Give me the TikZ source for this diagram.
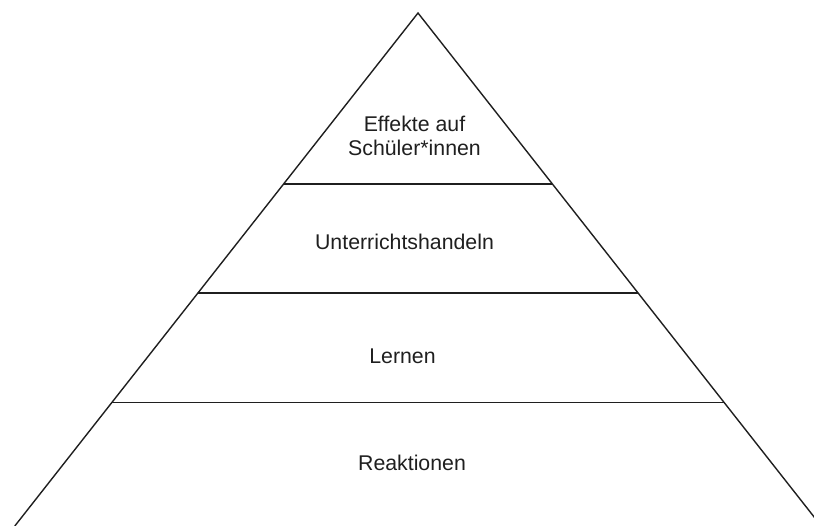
\documentclass[tikz,border=0pt]{standalone}
\usepackage{fontspec}
\setmainfont{Liberation Sans}
\usetikzlibrary{calc}

\begin{document}
\begin{tikzpicture}[
    x=1pt, y=-1pt,
    tier/.style={
        align=center,
        anchor=base,
        inner sep=0pt,
        text=black!88,
        font=\fontsize{21.3}{23.5}\selectfont
    },
    edge/.style={
        line width=1.4pt,
        draw=black!88,
        line join=miter
    }
]
\useasboundingbox (0,0) rectangle (814,526);
\clip (0,0) rectangle (814,526);

% Corners
\coordinate (apex) at (418,13);
\coordinate (bl) at (14.8,526);
\coordinate (br) at (821.2,526);

% Level ends on both sides
\coordinate (a1) at ($(apex)!0.3333!(bl)$);
\coordinate (b1) at ($(apex)!0.3333!(br)$);
\coordinate (a2) at ($(apex)!0.5458!(bl)$);
\coordinate (b2) at ($(apex)!0.5458!(br)$);
\coordinate (a3) at ($(apex)!0.7593!(bl)$);
\coordinate (b3) at ($(apex)!0.7593!(br)$);

% Paths
\draw [edge] (bl) -- (apex) -- (br);
\draw [edge] (a1) -- (b1);
\draw [edge] (a2) -- (b2);
\draw [edge] (a3) -- (b3);

% Nodes
\node (effekte) [tier] at (414.5,155.2) {Effekte auf\\Schüler*innen};
\node (handeln) [tier] at (404.5,249.5) {Unterrichtshandeln};
\node (lernen) [tier] at (402.5,364) {Lernen};
\node (reaktionen) [tier] at (412,470.7) {Reaktionen};

\end{tikzpicture}
\end{document}
